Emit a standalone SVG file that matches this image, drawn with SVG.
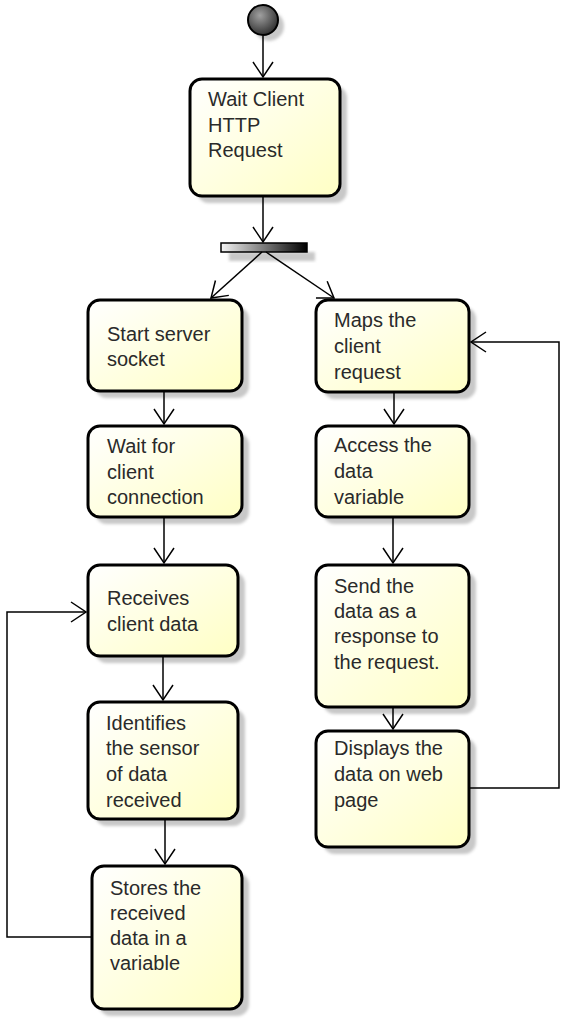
<svg xmlns="http://www.w3.org/2000/svg" width="565" height="1024" viewBox="0 0 565 1024">
<style>
.box{fill:url(#boxg);stroke:#000;stroke-width:3}
.sh{fill:#c8c8c8;filter:url(#blur)}
.t{font-family:"Liberation Sans",Arial,sans-serif;font-size:20px;fill:#2a2a2a}
.c{fill:none;stroke:#000;stroke-width:1.5}
</style>
<defs>
<linearGradient id="boxg" x1="0" y1="0" x2="1" y2="1">
<stop offset="0" stop-color="#ffffff"/>
<stop offset="1" stop-color="#ffffc4"/>
</linearGradient>
<linearGradient id="barg" x1="0" y1="0" x2="1" y2="0">
<stop offset="0" stop-color="#f4f4f4"/>
<stop offset="1" stop-color="#000"/>
</linearGradient>
<radialGradient id="circg" cx="0.4" cy="0.35" r="0.7">
<stop offset="0" stop-color="#a0a0a0"/>
<stop offset="1" stop-color="#2a2a2a"/>
</radialGradient>
<filter id="blur" x="-20%" y="-20%" width="140%" height="140%"><feGaussianBlur stdDeviation="1.5"/></filter>
<marker id="arr" viewBox="-16 -12 18 24" refX="0" refY="0" markerWidth="18" markerHeight="24" markerUnits="userSpaceOnUse" orient="auto">
<path d="M-15,-10 L0,0 L-15,10" fill="none" stroke="#000" stroke-width="1.5"/>
</marker>
</defs>

<g id="start">
<circle cx="269" cy="26" r="15" class="sh"/>
<circle cx="263" cy="20" r="15" fill="url(#circg)" stroke="#000" stroke-width="2"/>
</g>

<g id="n1">
<rect x="197" y="86" width="150" height="117" rx="12" class="sh"/>
<rect x="190" y="79" width="150" height="117" rx="12" class="box"/>
<text class="t"><tspan x="208" y="106">Wait Client</tspan><tspan x="208" y="131.5">HTTP</tspan><tspan x="208" y="157">Request</tspan></text>
</g>

<g id="fork">
<rect x="229" y="252" width="86" height="9" class="sh"/>
<rect x="221" y="243" width="86" height="9" fill="url(#barg)" stroke="#000" stroke-width="1.5"/>
</g>

<g id="n2">
<rect x="95" y="307" width="154" height="91" rx="12" class="sh"/>
<rect x="88" y="300" width="154" height="91" rx="12" class="box"/>
<text class="t"><tspan x="107" y="341">Start server</tspan><tspan x="107" y="366">socket</tspan></text>
</g>

<g id="n3">
<rect x="95" y="433" width="154" height="91" rx="12" class="sh"/>
<rect x="88" y="426" width="154" height="91" rx="12" class="box"/>
<text class="t"><tspan x="107" y="453">Wait for</tspan><tspan x="107" y="479">client</tspan><tspan x="107" y="504">connection</tspan></text>
</g>

<g id="n4">
<rect x="95" y="572" width="150" height="91" rx="12" class="sh"/>
<rect x="88" y="565" width="150" height="91" rx="12" class="box"/>
<text class="t"><tspan x="107" y="605">Receives</tspan><tspan x="107" y="631">client data</tspan></text>
</g>

<g id="n5">
<rect x="95" y="709" width="150" height="117" rx="12" class="sh"/>
<rect x="88" y="702" width="150" height="117" rx="12" class="box"/>
<text class="t"><tspan x="106" y="730">Identifies</tspan><tspan x="106" y="755">the sensor</tspan><tspan x="106" y="781">of data</tspan><tspan x="106" y="807">received</tspan></text>
</g>

<g id="n6">
<rect x="99" y="873" width="150" height="143" rx="12" class="sh"/>
<rect x="92" y="866" width="150" height="143" rx="12" class="box"/>
<text class="t"><tspan x="110" y="895">Stores the</tspan><tspan x="110" y="920">received</tspan><tspan x="110" y="945">data in a</tspan><tspan x="110" y="970">variable</tspan></text>
</g>

<g id="n7">
<rect x="323" y="307" width="153" height="92" rx="12" class="sh"/>
<rect x="316" y="300" width="153" height="92" rx="12" class="box"/>
<text class="t"><tspan x="334" y="327">Maps the</tspan><tspan x="334" y="353">client</tspan><tspan x="334" y="379">request</tspan></text>
</g>

<g id="n8">
<rect x="323" y="433" width="153" height="91" rx="12" class="sh"/>
<rect x="316" y="426" width="153" height="91" rx="12" class="box"/>
<text class="t"><tspan x="334" y="452">Access the</tspan><tspan x="334" y="478">data</tspan><tspan x="334" y="504">variable</tspan></text>
</g>

<g id="n9">
<rect x="323" y="572" width="153" height="142" rx="12" class="sh"/>
<rect x="316" y="565" width="153" height="142" rx="12" class="box"/>
<text class="t"><tspan x="334" y="593">Send the</tspan><tspan x="334" y="618">data as a</tspan><tspan x="334" y="643">response to</tspan><tspan x="334" y="669">the request.</tspan></text>
</g>

<g id="n10">
<rect x="323" y="738" width="153" height="116" rx="12" class="sh"/>
<rect x="316" y="731" width="153" height="116" rx="12" class="box"/>
<text class="t"><tspan x="334" y="755">Displays the</tspan><tspan x="334" y="781">data on web</tspan><tspan x="334" y="807">page</tspan></text>
</g>

<g id="connectors">
<line x1="263" y1="36" x2="263" y2="77" class="c" marker-end="url(#arr)"/>
<line x1="263" y1="197" x2="263" y2="242" class="c" marker-end="url(#arr)"/>
<line x1="262" y1="252" x2="211" y2="298" class="c" marker-end="url(#arr)"/>
<line x1="266" y1="252" x2="334" y2="298" class="c" marker-end="url(#arr)"/>
<line x1="164" y1="392" x2="164" y2="424" class="c" marker-end="url(#arr)"/>
<line x1="164" y1="518" x2="164" y2="563" class="c" marker-end="url(#arr)"/>
<line x1="163" y1="657" x2="163" y2="700" class="c" marker-end="url(#arr)"/>
<line x1="165" y1="820" x2="165" y2="864" class="c" marker-end="url(#arr)"/>
<polyline points="91,937 7,937 7,612 86,612" class="c" marker-end="url(#arr)"/>
<line x1="394" y1="393" x2="394" y2="424" class="c" marker-end="url(#arr)"/>
<line x1="393" y1="518" x2="393" y2="563" class="c" marker-end="url(#arr)"/>
<line x1="393" y1="708" x2="393" y2="729" class="c" marker-end="url(#arr)"/>
<polyline points="470,788 559,788 559,342 471,342" class="c" marker-end="url(#arr)"/>
</g>
</svg>
